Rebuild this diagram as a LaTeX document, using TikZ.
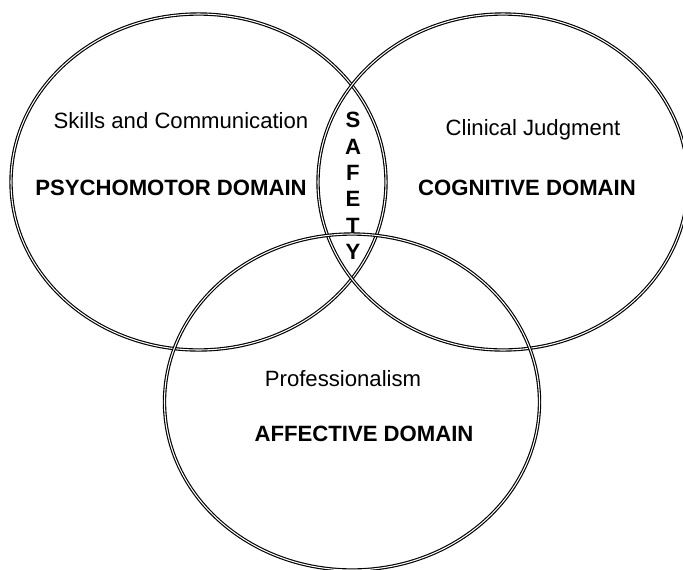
\documentclass[tikz,border=0pt]{standalone}
\usepackage{fontspec}
\setmainfont{Liberation Sans}
\usepackage{tikz}

\begin{document}
\begin{tikzpicture}[x=0.02cm,y=-0.02cm]
\tikzstyle{every node}+=[inner sep=0pt]
\tikzstyle{ring}=[draw=black, line width=0.65pt, double=white, double distance=0.6pt]
\tikzstyle{lbl}=[font=\fontsize{12.6}{15}\selectfont, anchor=base]
\tikzstyle{dom}=[font=\fontsize{12.6}{15}\selectfont\bfseries, anchor=base]
\useasboundingbox (0,0) rectangle (683,569);
% the three domains
\draw [ring] (198.5,182) ellipse [x radius=187.5, y radius=168];
\draw [ring] (503,182) ellipse [x radius=185, y radius=168];
\draw [ring] (352,402) ellipse [x radius=187.5, y radius=168];
% labels
\node [lbl] (skills) at (181,128) {Skills and Communication};
\node [dom] (psycho) at (171,195) {PSYCHOMOTOR DOMAIN};
\node [lbl] (clinical) at (533,135) {Clinical Judgment};
\node [dom] (cognitive) at (527,195) {COGNITIVE DOMAIN};
\node [lbl] (prof) at (343,386) {Professionalism};
\node [dom] (affective) at (364,441) {AFFECTIVE DOMAIN};
\node [dom, anchor=center, align=center] (safety) at (353,186) {S\\A\\F\\E\\T\\Y};
\end{tikzpicture}
\end{document}
